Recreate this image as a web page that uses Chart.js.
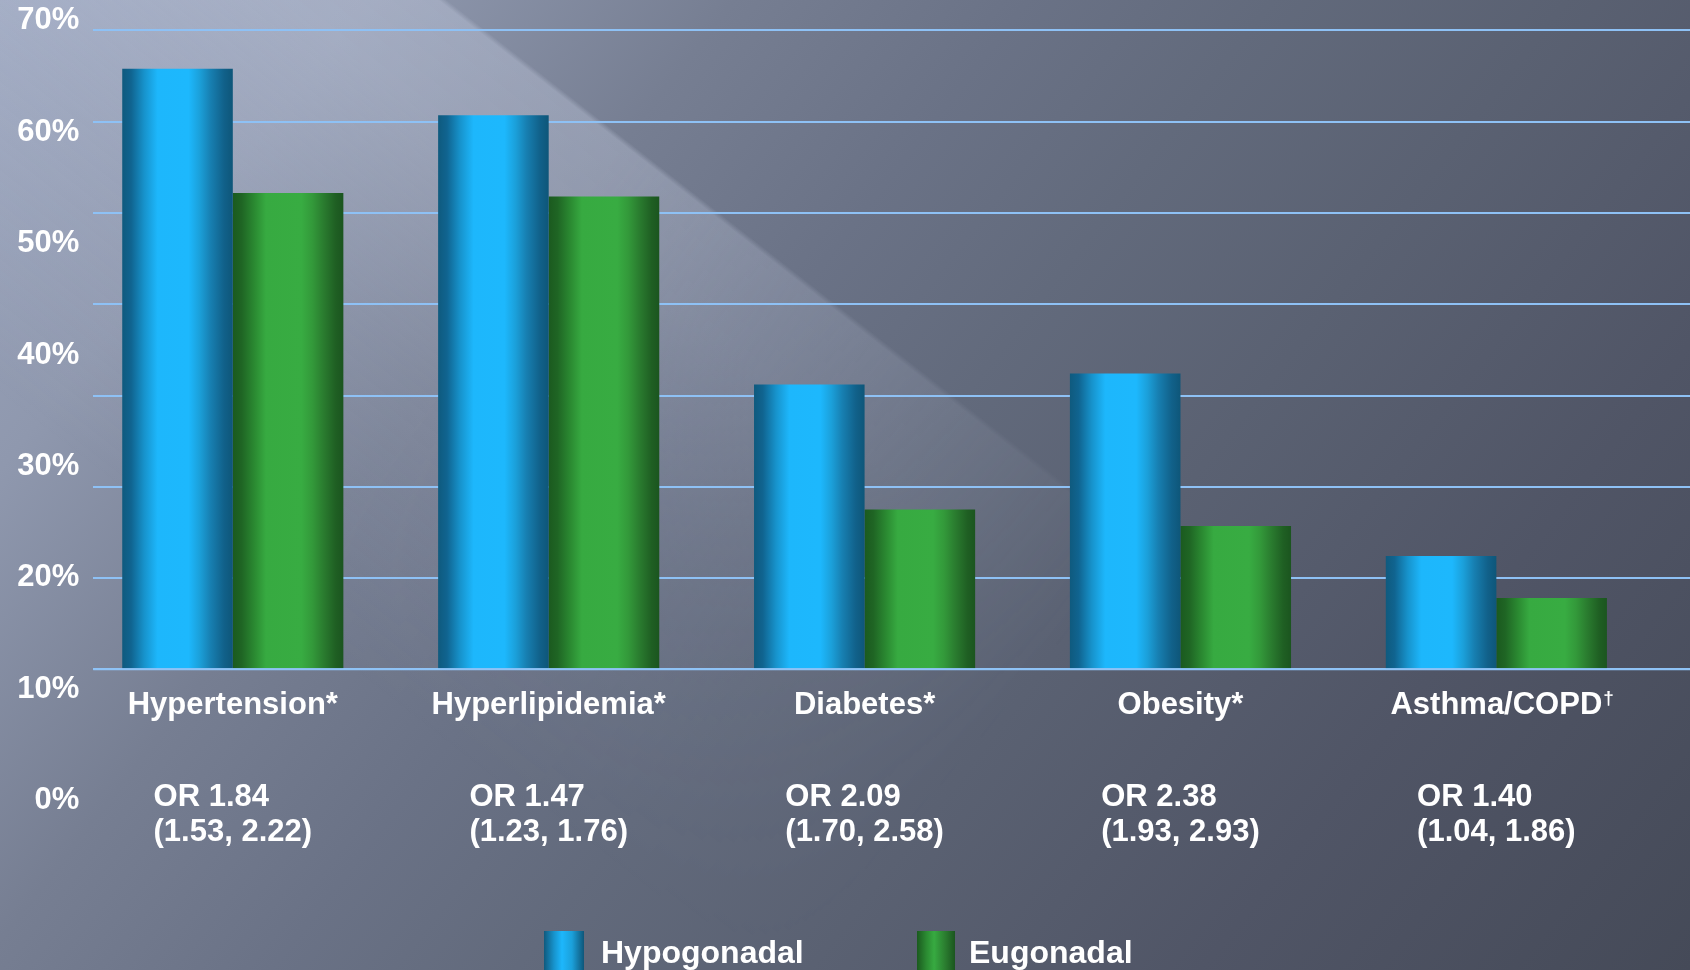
<!DOCTYPE html>
<html>
<head>
<meta charset="utf-8">
<title>Hypogonadal vs Eugonadal comorbidities</title>
<script src="https://cdn.jsdelivr.net/npm/chart.js@4.4.1/dist/chart.umd.min.js"></script>
<style>
    html, body { margin: 0; padding: 0; overflow: hidden; }
    body {
        width: 1690px; height: 970px; position: relative;
        font-family: "Liberation Sans", Arial, sans-serif;
        background: linear-gradient(128deg, #9ca6be 0%, #8f98ae 15%, #767e92 30%, #6a7286 42%, #626a7c 52%, #5a6172 64%, #505566 80%, #454a58 100%);
    }
    /* banda clara diagonal con borde nítido, que se desvanece hacia abajo a la derecha */
    .band {
        position: absolute; left: 0; top: 0; width: 1690px; height: 970px;
        background: linear-gradient(38deg, rgba(220,228,248,0) 25%, rgba(220,228,248,0.12) 40%, rgba(220,228,248,0.27) 52%, rgba(220,228,248,0.29) 57.3%, rgba(220,228,248,0) 57.6%);
        -webkit-mask-image: linear-gradient(128deg, #000 0%, #000 30%, rgba(0,0,0,0) 64%);
        mask-image: linear-gradient(128deg, #000 0%, #000 30%, rgba(0,0,0,0) 64%);
    }
    #wrap { position: absolute; left: 0; top: 0; width: 1690px; height: 970px; }
    .key { position: absolute; top: 931px; width: 40px; height: 45px; }
    .key.hypo { left: 544px; background: linear-gradient(to right, #0f5a7e 0%, #1793cc 25%, #1db7fc 45%, #1ba0da 70%, #0e5679 100%); }
    .key.eu { left: 917px; width: 38px; background: linear-gradient(to right, #1b5a1f 0%, #2b8b32 25%, #37aa41 45%, #2a7c2f 75%, #1b551f 100%); }
    .keytext { position: absolute; top: 936px; font-size: 32px; font-weight: bold; color: #fff; line-height: 1; white-space: nowrap; }
</style>
</head>
<body>
<div class="band"></div>
<div id="wrap"><canvas id="comorbidityChart"></canvas></div>
<div class="key hypo"></div><div class="keytext" style="left:601px">Hypogonadal</div>
<div class="key eu"></div><div class="keytext" style="left:969px">Eugonadal</div>

<script>
// Condiciones y prevalencias (%)
const categories = ['Hypertension*', 'Hyperlipidemia*', 'Diabetes*', 'Obesity*', 'Asthma/COPD†'];
const hypogonadal = [65.8, 60.7, 31.2, 32.4, 12.4];
const eugonadal = [52.2, 51.8, 17.5, 15.7, 7.8];
const oddsRatios = ['OR 1.84', 'OR 1.47', 'OR 2.09', 'OR 2.38', 'OR 1.40'];
const intervals = ['(1.53, 2.22)', '(1.23, 1.76)', '(1.70, 2.58)', '(1.93, 2.93)', '(1.04, 1.86)'];
const gridValues = [0, 10, 20, 30, 40, 50, 60, 70];

const FONT = '"Liberation Sans", Arial, sans-serif';

// Sombreado tipo cilindro para cada barra
const blueStops = [[0, '#0f5a7e'], [0.08, '#106490'], [0.2, '#1793cc'], [0.32, '#1db7fc'], [0.6, '#1db8fd'],
    [0.7, '#1ba0da'], [0.8, '#177fb1'], [0.92, '#11618a'], [1, '#0e5679']];
const greenStops = [[0, '#1b5a1f'], [0.08, '#1f6524'], [0.2, '#2b8b32'], [0.3, '#37aa41'], [0.62, '#38ac42'],
    [0.72, '#33993a'], [0.82, '#2a7c2f'], [0.93, '#1f5f23'], [1, '#1b551f']];

const cylinderShade = {
    id: 'cylinderShade',
    beforeDatasetsDraw(chart) {
        const ctx = chart.ctx;
        chart.data.datasets.forEach((ds, di) => {
            const stops = di === 0 ? blueStops : greenStops;
            chart.getDatasetMeta(di).data.forEach(bar => {
                const left = bar.x - bar.width / 2;
                const g = ctx.createLinearGradient(left, 0, left + bar.width, 0);
                stops.forEach(([p, c]) => g.addColorStop(p, c));
                bar.options.backgroundColor = g;
            });
        });
    }
};

// Línea base sobre las barras, nombres de categoría y OR con su intervalo
const categoryText = {
    id: 'categoryText',
    afterDatasetsDraw(chart) {
        const {ctx, chartArea, scales: {x, y}} = chart;
        const y0 = y.getPixelForValue(0);
        ctx.save();
        ctx.strokeStyle = '#8fc3f6';
        ctx.lineWidth = 2;
        ctx.beginPath();
        ctx.moveTo(chartArea.left, y0);
        ctx.lineTo(chartArea.right, y0);
        ctx.stroke();

        ctx.fillStyle = '#ffffff';
        ctx.textBaseline = 'alphabetic';
        categories.forEach((name, i) => {
            const cx = x.getPixelForValue(i);
            const dagger = name.endsWith('†');
            const main = dagger ? name.slice(0, -1) : name;
            ctx.font = 'bold 31px ' + FONT;
            ctx.textAlign = 'center';
            ctx.fillText(main, cx, y0 + 45);
            if (dagger) {
                const w = ctx.measureText(main).width;
                ctx.save();
                ctx.font = 'bold 19px ' + FONT;
                ctx.textAlign = 'left';
                ctx.fillText('†', cx + w / 2 + 1, y0 + 35);
                ctx.restore();
            }
            const w = Math.max(ctx.measureText(oddsRatios[i]).width, ctx.measureText(intervals[i]).width);
            ctx.textAlign = 'left';
            ctx.fillText(oddsRatios[i], cx - w / 2, y0 + 136.5);
            ctx.fillText(intervals[i], cx - w / 2, y0 + 172);
        });
        ctx.restore();
    }
};

const ctx = document.getElementById('comorbidityChart').getContext('2d');
const chart = new Chart(ctx, {
    type: 'bar',
    data: {
        datasets: [{
            label: 'Hypogonadal',
            data: hypogonadal.map((v, i) => ({x: i, y: v})),
            backgroundColor: () => '#1db8fd',
            xAxisID: 'x',
            yAxisID: 'y'
        }, {
            label: 'Eugonadal',
            data: eugonadal.map((v, i) => ({x: i, y: v})),
            backgroundColor: () => '#37aa41',
            xAxisID: 'x',
            yAxisID: 'y'
        }]
    },
    options: {
        responsive: true,
        maintainAspectRatio: false,
        animation: false,
        categoryPercentage: 0.7,
        barPercentage: 1.0,
        layout: { padding: { top: 20.7, bottom: 169.3, left: 0, right: 0 } },
        plugins: {
            legend: { display: false },
            tooltip: { enabled: false }
        },
        scales: {
            x: {
                type: 'linear',
                display: false,
                offset: false,
                min: -0.4416,
                max: 4.613,
                afterBuildTicks: scale => { scale.ticks = categories.map((c, i) => ({value: i})); }
            },
            y: {
                type: 'linear',
                position: 'left',
                min: -14.40,
                max: 71.07,
                afterBuildTicks: scale => { scale.ticks = gridValues.map(v => ({value: v})); },
                afterFit: scale => { scale.width = 0; },
                ticks: { display: false },
                grid: { color: '#8ec1f5', lineWidth: 2, drawTicks: false },
                border: { display: false }
            },
            pct: {
                axis: 'y',
                type: 'linear',
                position: 'left',
                min: 0,
                max: 70,
                afterFit: scale => {
                    scale.width = 93.3;
                    scale.paddingTop = 0;
                    scale.paddingBottom = 0;
                },
                ticks: {
                    stepSize: 10,
                    padding: 14,
                    color: '#ffffff',
                    font: { family: FONT, weight: 'bold', size: 31 },
                    callback: v => v + '%'
                },
                grid: { display: false, drawTicks: false },
                border: { display: false }
            }
        }
    },
    plugins: [cylinderShade, categoryText]
});
</script>
</body>
</html>
